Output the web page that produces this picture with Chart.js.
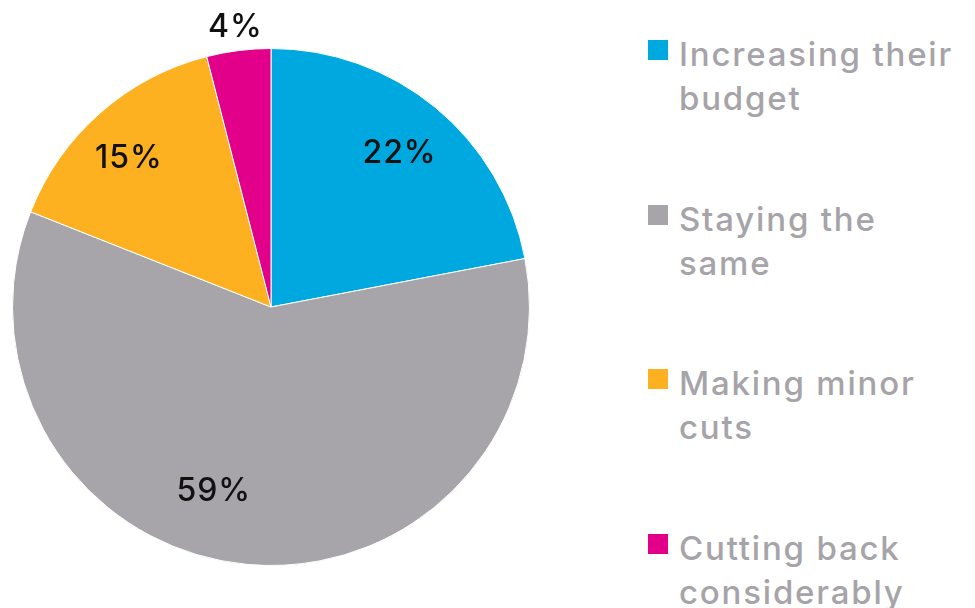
<!DOCTYPE html>
<html>
<head>
<meta charset="utf-8">
<script src="https://cdn.jsdelivr.net/npm/chart.js@4"></script>
<style>
  html, body { margin: 0; padding: 0; background: #fff; }
  #wrap { position: relative; width: 975px; height: 608px; }
  #pie { position: absolute; left: 0; top: 0; width: 542px; height: 608px; }
  #legend { position: absolute; left: 648px; top: 0; font-family: Inter, sans-serif; }
  .item { position: absolute; left: 0; width: 330px; }
  .box { position: absolute; left: 0; top: 8px; width: 20px; height: 20px; }
  .txt { position: absolute; left: 31px; top: 0; font-size: 33px; font-weight: 500; line-height: 44px; color: #a6a4a8; letter-spacing: 1.8px; white-space: nowrap; }
</style>
</head>
<body>
<div id="wrap">
  <div id="pie"><canvas id="chart"></canvas></div>
  <div id="legend"></div>
</div>
<script>
// data
const categories = ['Increasing their budget', 'Staying the same', 'Making minor cuts', 'Cutting back considerably']
const legendLines = [['Increasing their', 'budget'], ['Staying the', 'same'], ['Making minor', 'cuts'], ['Cutting back', 'considerably']]
const shares = [22, 59, 15, 4]
const colors = ['#00a8e0', '#a7a5aa', '#fdb120', '#e2008a']

// label placement: distance from centre (fraction of radius) and angle nudge in degrees
const labelRadius = [0.78, 0.74, 0.80, 1.10]
const labelNudge = [0, 12, -2, 0]

const legendEl = document.querySelector('#legend')
legendLines.forEach((lines, i) => {
  const item = document.createElement('div')
  item.className = 'item'
  item.style.top = (32 + i * 164.5) + 'px'
  item.innerHTML = `<div class="box" style="background:${colors[i]}"></div><div class="txt">${lines.join('<br>')}</div>`
  legendEl.appendChild(item)
})

const sliceLabels = {
  id: 'sliceLabels',
  afterDatasetsDraw(chart) {
    const ctx = chart.ctx
    const meta = chart.getDatasetMeta(0)
    ctx.save()
    ctx.font = '500 32px Inter, sans-serif'
    ctx.letterSpacing = '1px'
    ctx.fillStyle = '#111'
    ctx.textAlign = 'center'
    ctx.textBaseline = 'middle'
    meta.data.forEach((arc, i) => {
      const mid = (arc.startAngle + arc.endAngle) / 2 + labelNudge[i] * Math.PI / 180
      const r = arc.outerRadius * labelRadius[i]
      ctx.fillText(shares[i] + '%', arc.x + Math.cos(mid) * r, arc.y + Math.sin(mid) * r + 2)
    })
    ctx.restore()
  }
}

new Chart(document.querySelector('#chart'), {
  type: 'pie',
  data: {
    labels: categories,
    datasets: [{
      data: shares,
      backgroundColor: colors,
      borderColor: '#ffffff',
      borderWidth: 1,
    }],
  },
  options: {
    responsive: true,
    maintainAspectRatio: false,
    animation: false,
    layout: { padding: { top: 48, bottom: 42, left: 12, right: 12 } },
    plugins: {
      legend: { display: false },
      tooltip: { enabled: false },
    },
  },
  plugins: [sliceLabels],
})
</script>
</body>
</html>
